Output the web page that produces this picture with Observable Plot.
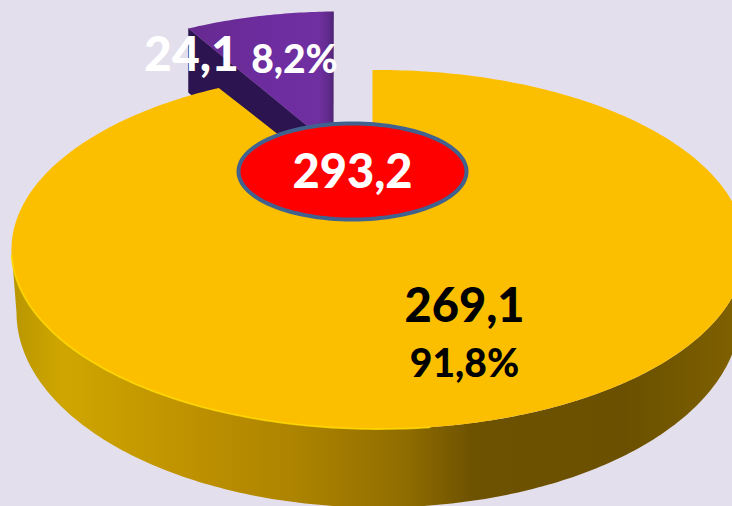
<!DOCTYPE html>
<html><head><meta charset="utf-8">
<script src="https://cdn.jsdelivr.net/npm/d3@7"></script>
<script src="https://cdn.jsdelivr.net/npm/@observablehq/plot@0.6"></script>
<style>html,body{margin:0;padding:0;background:#e4dfec;overflow:hidden}svg{display:block}</style>
</head><body><div id="chart"></div>
<script>
const categories = ["Основная часть", "Выделенная часть"];
const values = [269.1, 24.1];
const valueLabels = ["269,1", "24,1"];
const percentLabels = ["91,8%", "8,2%"];
const totalLabel = "293,2";

const W = 732, H = 506;
const total = d3.sum(values);
// Perspective foreshortens the far slice: value -> angle on the projected rim (clockwise from top)
const rimAngle = d3.scaleLinear([0, values[0], total], [-0.94, 334.2, 359.06]);
const pie = {cx: 378, cy: 249, rx: 367, ry: 179.5, apexX: 372, apexY: 208};
const pieBase = {cx: 378, cy: 312, rx: 362, ry: 195};
const burst = {cx: 339, cy: 181, rx: 347, ry: 170, apexX: 333, apexY: 147, depth: 64};

const rad = d => d * Math.PI / 180;
const rimPt = (deg, c, dy = 0) => ({x: c.cx + c.rx * Math.sin(rad(deg)), y: c.cy + dy - c.ry * Math.cos(rad(deg))});
const range = (a, b, n = 180) => d3.range(n + 1).map(i => a + (b - a) * i / n);

// main slice
const a0 = rimAngle(0), a1 = rimAngle(values[0]), a2 = rimAngle(total);
const mainTop = [{x: pie.apexX, y: pie.apexY}, ...range(a0, a1, 360).map(d => rimPt(d, pie))];
const mainWall = [...range(90, 270, 200).map(d => rimPt(d, pie)), ...range(270, 90, 200).map(d => rimPt(d, pieBase))];
const highlight = range(172, 268, 100).map(d => rimPt(d, pie));

// exploded slice
const sliceTop = [{x: burst.apexX, y: burst.apexY}, ...range(a1, a2, 40).map(d => rimPt(d, burst))];
const corner = rimPt(a1, burst);
const sliceCut = [{x: burst.apexX, y: burst.apexY}, corner, {x: corner.x, y: corner.y + burst.depth}, {x: burst.apexX, y: burst.apexY + burst.depth}];

// total badge
const badge = {cx: 352, cy: 171, rx: 114, ry: 48};
const badgePath = range(0, 360, 120).map(d => rimPt(d, badge));

const labels = [
  {x: 191, y: 55, text: valueLabels[1], size: 48, fill: "#fff"},
  {x: 294, y: 60, text: percentLabels[1], size: 39, fill: "#fff"},
  {x: 352, y: 172, text: totalLabel, size: 47, fill: "#fff"},
  {x: 464, y: 306, text: valueLabels[0], size: 47, fill: "#000"},
  {x: 464, y: 364, text: percentLabels[0], size: 39, fill: "#000"}
];

const defs = () => {
  const d = d3.create("svg:defs");
  const grad = (id, x1, x2, stops) => {
    const g = d.append("linearGradient").attr("id", id).attr("gradientUnits", "userSpaceOnUse")
      .attr("x1", x1).attr("x2", x2).attr("y1", 0).attr("y2", 0);
    stops.forEach(([o, c]) => g.append("stop").attr("offset", o).attr("stop-color", c));
  };
  grad("wall", 11, 732, [[0, "#b89600"], [0.07, "#cfa600"], [0.26, "#bd9000"], [0.4, "#ac8300"], [0.55, "#8f6c00"], [0.64, "#6d5200"], [0.85, "#6a5000"], [1, "#7e6000"]]);
  grad("top", 187, 333, [[0, "#66298f"], [0.6, "#6e2da0"], [0.9, "#7030a0"], [0.97, "#5f2a8a"], [1, "#4e2474"]]);
  return d.node();
};

const chart = Plot.plot({
  width: W, height: H, margin: 0,
  style: {background: "#e4dfec"},
  x: {domain: [0, W], range: [0, W], axis: null},
  y: {domain: [0, H], range: [0, H], axis: null},
  marks: [
    defs,
    Plot.line(sliceCut, {x: "x", y: "y", fill: "#2c1450", stroke: "#2c1450", strokeWidth: 0.5}),
    Plot.line(sliceTop, {x: "x", y: "y", fill: "url(#top)", stroke: "none"}),
    Plot.line(mainWall, {x: "x", y: "y", fill: "url(#wall)", stroke: "none"}),
    Plot.line(mainTop, {x: "x", y: "y", fill: "#fcbf00", stroke: "none"}),
    Plot.line(highlight, {x: "x", y: "y", stroke: "#ffd800", strokeWidth: 1.8, strokeOpacity: 0.85}),
    Plot.line(badgePath, {x: "x", y: "y", fill: "#ff0000", stroke: "#41628e", strokeWidth: 4}),
    Plot.text(labels, {x: "x", y: "y", text: "text", fontSize: "size", fill: "fill", fontWeight: 900,
      fontFamily: "Lato, 'Open Sans', sans-serif", textAnchor: "middle", lineAnchor: "middle"})
  ]
});
document.getElementById("chart").append(chart);
</script></body></html>
